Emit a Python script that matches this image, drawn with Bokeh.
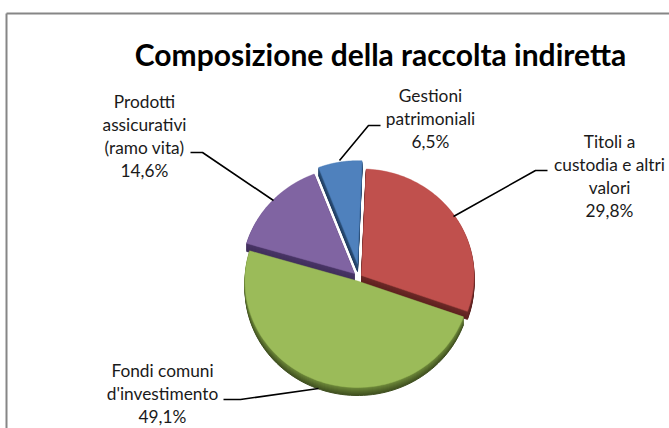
import numpy as np
from bokeh.plotting import figure
from bokeh.embed import file_html
from bokeh.resources import INLINE
from bokeh.core.properties import value

# Composition of indirect funding, in percent
labels = [
    ["Gestioni", "patrimoniali", "6,5%"],
    ["Titoli a", "custodia e altri", "valori", "29,8%"],
    ["Fondi comuni", "d'investimento", "49,1%"],
    ["Prodotti", "assicurativi", "(ramo vita)", "14,6%"],
]
shares = [6.5, 29.8, 49.1, 14.6]
top_colors = ["#4f81bd", "#c0504d", "#9bbb59", "#8064a2"]
rim_dark = ["#1f3a5c", "#5a1f1d", "#3f4f20", "#3f2f58"]
rim_light = ["#2f5580", "#6e2a28", "#6f8a3a", "#4a3668"]

TITLE = "Composizione della raccolta indiretta"
FONT = "Lato"

# Pie layout on a pixel-based canvas
START_DEG = -21.0
RX, RY = 112.5, 106.5
DEPTH = 8
apexes = [(357, 263), (361, 275), (357, 280.5), (354, 273)]
radius_scale = [0.965, 1.0, 1.0, 1.0]
label_anchor_x = [430, 609, 162, 144]
label_first_y = [95, 141, 370, 101]
label_leading = 23
leaders = [
    ([339, 368, 380], [160, 125, 125]),
    ([453, 535, 547], [216, 170, 170]),
    ([223, 240, 318], [399, 399, 388]),
    ([190, 202, 273], [152, 152, 200]),
]

p = figure(width=669, height=428, x_range=(0, 669), y_range=(428, 0),
           toolbar_location=None, output_backend="svg", min_border=0,
           outline_line_color=None, background_fill_color="white",
           border_fill_color="white")
p.axis.visible = False
p.grid.visible = False

# Chart-area frame
p.line([6, 6], [13, 428], line_color="#868686", line_width=2)
p.line([6, 669], [13, 13], line_color="#868686", line_width=2)


def slice_outline(i, a0, a1):
    cx, cy = apexes[i]
    t = np.radians(np.linspace(a0, a1, 80))
    k = radius_scale[i]
    xs = cx + k * RX * np.sin(t)
    ys = cy - k * RY * np.cos(t)
    return np.r_[cx, xs], np.r_[cy, ys]


edges = START_DEG + np.r_[0, np.cumsum(shares)] * 3.6
outlines = [slice_outline(i, edges[i], edges[i + 1]) for i in range(len(shares))]


def mix(c0, c1, f):
    a = [int(c0[j:j + 2], 16) for j in (1, 3, 5)]
    b = [int(c1[j:j + 2], 16) for j in (1, 3, 5)]
    return "#%02x%02x%02x" % tuple(round(u + (v - u) * f) for u, v in zip(a, b))


# Back slices first, so the large front slice overlaps their walls
for i in [3, 0, 1, 2]:
    xs, ys = outlines[i]
    for d in range(DEPTH, 0, -1):
        color = mix(rim_light[i], rim_dark[i], d / DEPTH)
        p.patch(xs, ys + d, fill_color=color, line_color=color, line_width=1)
    p.patch(xs, ys, fill_color=top_colors[i], line_color=top_colors[i], line_width=0.5)

for lx, ly in leaders:
    p.line(lx, ly, line_color="black", line_width=1.6)

for i, lines in enumerate(labels):
    for j, line in enumerate(lines):
        p.text([label_anchor_x[i]], [label_first_y[i] + j * label_leading], text=[line],
               text_font=value(FONT), text_font_size="17.3px", text_color="#1a1a1a",
               text_align="center", text_baseline="middle")

p.text([380], [53], text=[TITLE], text_font=value(FONT), text_font_style="bold",
       text_font_size="30px", text_color="black", text_align="center",
       text_baseline="middle")

open("out.html", "w").write(file_html(p, INLINE))
